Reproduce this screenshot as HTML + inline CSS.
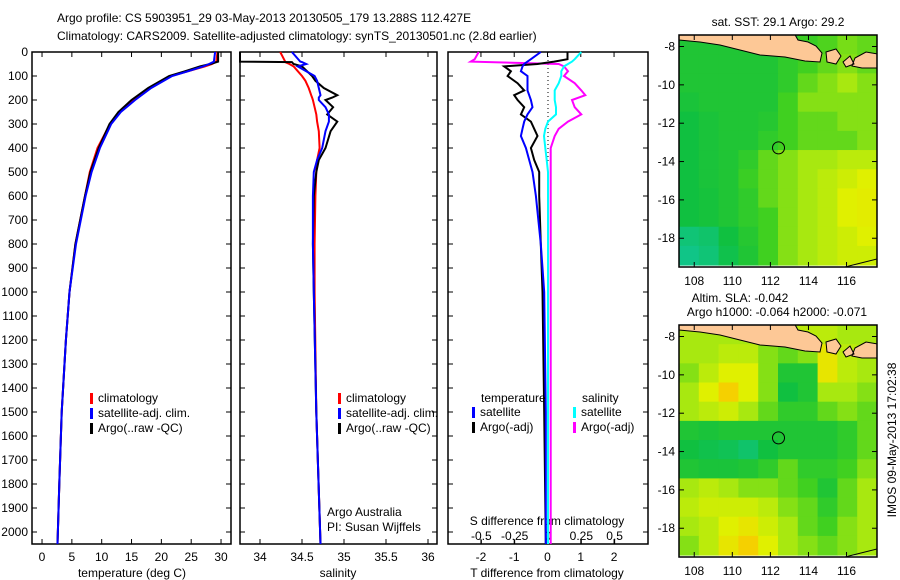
<!DOCTYPE html>
<html><head><meta charset="utf-8"><style>
body{margin:0;background:#fff}
svg{display:block;font-family:"Liberation Sans",sans-serif;font-size:12px}
</style></head><body>
<svg id="c" width="900" height="580" viewBox="0 0 900 580">
<text x="57" y="22">Argo profile: CS 5903951_29 03-May-2013 20130505_179 13.288S 112.427E</text>
<text x="57" y="40">Climatology: CARS2009. Satellite-adjusted climatology: synTS_20130501.nc (2.8d earlier)</text>
<g id="g"></g>
</svg>
<script>
// ---- data ----
const depthT=[0,40,50,60,80,100,150,200,250,300,400,500,600,700,800,1000,1200,1500,1800,2050];
const tempClim=[29.4,29.2,28.5,27.3,24.5,21.6,18.0,15.3,13.0,11.4,9.3,8.0,7.2,6.4,5.6,4.6,4.0,3.3,2.9,2.6];
const tempSat=[29.0,28.8,28.0,27.0,24.5,21.8,18.3,15.6,13.2,11.6,9.7,8.3,7.3,6.5,5.7,4.6,4.0,3.3,2.9,2.6];
const tempArgo=[29.5,29.5,28.2,26.5,24.0,21.3,17.8,15.0,12.8,11.3,9.5,8.1,7.2,6.4,5.6,4.6,4.0,3.3,2.9,2.6];
const depthS=[0,40,42,50,60,80,100,120,150,180,190,200,230,260,290,330,400,450,500,600,800,1000,1500,2050];
const salClim=[34.24,34.3,34.3,34.35,34.4,34.45,34.5,34.54,34.58,34.61,34.62,34.63,34.65,34.67,34.68,34.7,34.71,34.68,34.67,34.66,34.65,34.65,34.67,34.72];
const salSat=[34.38,34.48,34.5,34.55,34.45,34.55,34.65,34.68,34.7,34.72,34.7,34.7,34.78,34.82,34.82,34.78,34.74,34.68,34.64,34.63,34.63,34.64,34.67,34.72];
const salArgo=[33.6,33.6,34.38,34.4,34.5,34.56,34.62,34.66,34.76,34.92,34.86,34.78,34.87,34.8,34.92,34.84,34.78,34.7,34.67,34.64,34.63,34.64,34.67,34.72];
const depthD=[0,30,40,50,60,80,100,130,160,180,200,230,260,290,320,350,400,450,500,600,800,1000,1500,2050];
const dTArgo=[0.6,0.6,0.2,-0.3,-1.3,-1.1,-1.2,-0.9,-0.7,-1.0,-0.9,-0.7,-0.8,-0.5,-0.4,-0.3,-0.5,-0.4,-0.25,-0.25,-0.2,-0.15,-0.1,-0.05];
const dTSat=[-0.2,-0.5,-0.6,-0.7,-0.75,-0.8,-0.6,-0.6,-0.6,-0.55,-0.5,-0.45,-0.6,-0.7,-0.75,-0.8,-0.65,-0.55,-0.45,-0.35,-0.2,-0.1,-0.05,-0.05];
const dSArgo=[-0.52,-0.55,-0.58,0.08,0.12,0.15,0.12,0.2,0.25,0.28,0.18,0.2,0.25,0.15,0.08,0.05,0.02,0.02,0.02,0.02,0.02,0.02,0.02,0.02];
const dSSat=[0.25,0.2,0.18,0.15,0.12,0.1,0.1,0.08,0.05,0.05,0.05,0.06,0.06,0.0,-0.02,-0.03,-0.02,-0.01,0,0,0,0,0,0];
const yTicks=[0,100,200,300,400,500,600,700,800,900,1000,1100,1200,1300,1400,1500,1600,1700,1800,1900,2000];
const tTicks=[0,5,10,15,20,25,30];
const sTicks=[34,34.5,35,35.5,36];
const sTickLabels=["34","34.5","35","35.5","36"];
const dTTicks=[-2,-1,0,1,2];
const dSTicks=[-0.5,-0.25,0,0.25,0.5];
const lonTicks=[108,110,112,114,116];
const latTicks=[-8,-10,-12,-14,-16,-18];
const argoLon=112.427, argoLat=-13.288;
const mapLons=[107.2,108.24,109.28,110.32,111.36,112.4,113.44,114.48,115.52,116.56,117.6];
const mapLats=[-7.4,-8.4,-9.4,-10.4,-11.4,-12.4,-13.4,-14.4,-15.4,-16.4,-17.4,-18.4,-19.4];
const sstGrid=[
[.3,.3,.3,.3,.3,.32,.38,.42,.48,.45],
[.3,.3,.3,.3,.3,.35,.4,.45,.5,.45],
[.3,.3,.3,.3,.3,.35,.45,.5,.55,.5],
[.28,.3,.3,.3,.3,.4,.5,.5,.5,.5],
[.25,.28,.3,.3,.32,.4,.45,.45,.5,.5],
[.25,.28,.3,.3,.35,.4,.45,.45,.45,.5],
[.25,.28,.3,.35,.45,.5,.55,.55,.6,.6],
[.25,.28,.3,.38,.45,.5,.55,.6,.65,.7],
[.25,.27,.3,.35,.45,.5,.55,.6,.7,.72],
[.25,.27,.3,.35,.4,.5,.55,.6,.7,.72],
[.12,.15,.25,.32,.4,.5,.55,.6,.65,.7],
[.08,.12,.22,.3,.4,.5,.55,.6,.65,.65]];
const slaGrid=[
[.55,.55,.55,.55,.55,.55,.6,.6,.55,.55],
[.55,.55,.6,.6,.5,.45,.5,.75,.6,.55],
[.5,.6,.7,.7,.5,.3,.3,.75,.6,.55],
[.55,.7,.85,.7,.5,.25,.3,.55,.55,.5],
[.55,.6,.65,.55,.45,.35,.35,.45,.5,.45],
[.3,.28,.3,.3,.3,.3,.3,.3,.35,.45],
[.25,.22,.2,.15,.25,.3,.3,.3,.35,.45],
[.3,.28,.28,.3,.35,.45,.35,.35,.4,.5],
[.55,.6,.55,.5,.5,.45,.4,.3,.45,.55],
[.6,.65,.65,.65,.6,.5,.45,.35,.45,.55],
[.55,.6,.7,.75,.65,.55,.45,.4,.5,.55],
[.5,.6,.75,.85,.7,.55,.5,.45,.5,.55]];
// ---- drawing ----
const NS="http://www.w3.org/2000/svg";
const G=document.getElementById('g');
function el(t,a,p){const e=document.createElementNS(NS,t);for(const k in a)e.setAttribute(k,a[k]);(p||G).appendChild(e);return e;}
function txt(x,y,s,anchor){const e=el('text',{x:x,y:y,'text-anchor':anchor||'start'});e.textContent=s;return e;}
const Y=d=>52+d*0.24;
const PT=52,PB=544;
const panels=[{x0:32,x1:231,lo:-1.68,hi:31.67},{x0:240,x1:437,lo:33.762,hi:36.107},{x0:448,x1:648,lo:-2.99,hi:3.02}];
const sx=(p,v)=>p.x0+(v-p.lo)/(p.hi-p.lo)*(p.x1-p.x0);
const sxS=v=>548+v*133.3;
yTicks.forEach(d=>{const t=txt(28,Y(d)+4,String(d),'end');

});
panels.forEach((p,i)=>{
 const r=el('rect',{x:p.x0,y:PT,width:p.x1-p.x0,height:PB-PT,fill:'none',stroke:'#000','stroke-width':1.5});
 
 
 yTicks.forEach(d=>{el('line',{x1:p.x0,x2:p.x0+5,y1:Y(d),y2:Y(d),stroke:'#000'});el('line',{x1:p.x1-5,x2:p.x1,y1:Y(d),y2:Y(d),stroke:'#000'});});
});
function xticks(p,vals,labels,ly){vals.forEach((v,i)=>{const x=sx(p,v);
 el('line',{x1:x,x2:x,y1:PT,y2:PT+5,stroke:'#000'});el('line',{x1:x,x2:x,y1:PB-5,y2:PB,stroke:'#000'});
 const t=txt(x,ly,labels[i],'middle');
 
 });}
xticks(panels[0],tTicks,tTicks.map(String),561);
xticks(panels[1],sTicks,sTickLabels,561);
xticks(panels[2],dTTicks,dTTicks.map(String),561);
dSTicks.forEach(v=>{const x=sxS(v);el('line',{x1:x,x2:x,y1:PB-4,y2:PB,stroke:'#000'});
 const t=txt(x,540,String(v),'middle');
 
 });
let t;
t=txt(132,577,'temperature (deg C)','middle');
t=txt(338,577,'salinity','middle');
t=txt(547,577,'T difference from climatology','middle');
t=txt(547,525,'S difference from climatology','middle');
t=txt(327,516,'Argo Australia');
t=txt(327,531,'PI: Susan Wijffels');
el('line',{x1:548,x2:548,y1:PT,y2:163,stroke:'#000','stroke-dasharray':'1,3'});
function line(xs,ds,fx,col,name){const pts=xs.map((v,i)=>fx(v).toFixed(1)+','+Y(ds[i]).toFixed(1)).join(' ');
 const l=el('polyline',{points:pts,fill:'none',stroke:col,'stroke-width':2});
 
 }
line(tempClim,depthT,v=>sx(panels[0],v),'#f00','temp-climatology-line');
line(tempArgo,depthT,v=>sx(panels[0],v),'#000','temp-argo-line');
line(tempSat,depthT,v=>sx(panels[0],v),'#00f','temp-satellite-line');
line(salClim,depthS,v=>Math.max(240,sx(panels[1],v)),'#f00','sal-climatology-line');
line(salArgo,depthS,v=>Math.max(240,sx(panels[1],v)),'#000','sal-argo-line');
line(salSat,depthS,v=>sx(panels[1],v),'#00f','sal-satellite-line');
line(dSArgo,depthD,sxS,'#f0f','s-diff-argo-line');
line(dSSat,depthD,sxS,'#0ff','s-diff-satellite-line');
line(dTArgo,depthD,v=>sx(panels[2],v),'#000','t-diff-argo-line');
line(dTSat,depthD,v=>sx(panels[2],v),'#00f','t-diff-satellite-line');
function leg(x,y,col,label,name){el('rect',{x:x,y:y-9,width:3,height:11,fill:col});const t=txt(x+8,y,label);
 
 }
[['#f00','climatology'],['#00f','satellite-adj. clim.'],['#000','Argo(..raw -QC)']].forEach((e,i)=>{leg(90,402+i*15,e[0],e[1],'legend-entry');leg(338,402+i*15,e[0],e[1],'legend-entry');});
t=txt(481,402,'temperature');
t=txt(582,402,'salinity');
leg(472,416,'#00f','satellite','legend-entry');leg(472,431,'#000','Argo(-adj)','legend-entry');
leg(573,416,'#0ff','satellite','legend-entry');leg(573,431,'#f0f','Argo(-adj)','legend-entry');
// maps
const stops=[[0,[16,200,168]],[0.25,[16,192,64]],[0.4,[64,208,32]],[0.55,[168,232,16]],[0.7,[224,240,0]],[0.85,[245,208,0]],[1,[240,168,0]]];
function cmap(v){for(let i=1;i<stops.length;i++){if(v<=stops[i][0]){const a=stops[i-1],b=stops[i],f=(v-a[0])/(b[0]-a[0]);return 'rgb('+a[1].map((c,k)=>Math.round(c+(b[1][k]-c)*f)).join(',')+')';}}return 'rgb(240,168,0)';}
function drawMap(y0,grid,name){
 const mx=lon=>679+(lon-107.2)/10.4*198, my=lat=>y0+(-7.4-lat)/12.1*232;
 const cp=el('clipPath',{id:'cp'+name});el('rect',{x:679,y:y0,width:198,height:232},cp);
 const g=el('g',{'clip-path':'url(#cp'+name+')'});
 
 
 grid.forEach((row,r)=>row.forEach((v,c)=>{const x=mx(mapLons[c]),y=my(mapLats[r]);
  const cell=el('rect',{x:x,y:y,width:mx(mapLons[c+1])-x+0.5,height:my(mapLats[r+1])-y+0.5,fill:cmap(v)},g);
  
  }));
 const o=y0-35;
 const P=(x,y)=>x+','+(y+o);
 const d='M'+P(679,33)+' L'+P(679,40)+' L'+P(700,42)+' L'+P(720,45)+' L'+P(740,50)+' L'+P(760,55)+' L'+P(785,57)+' L'+P(805,61)+' L'+P(820,62)+' L'+P(822,53)+' L'+P(816,46)+' L'+P(808,42)+' L'+P(798,40)+' L'+P(794,33)+' Z'+
  ' M'+P(826,52)+' L'+P(836,49)+' L'+P(841,56)+' L'+P(836,64)+' L'+P(827,62)+' Z'+
  ' M'+P(855,58)+' L'+P(866,52)+' L'+P(878,54)+' L'+P(878,68)+' L'+P(862,68)+' L'+P(852,66)+' Z'+
  ' M'+P(843,62)+' L'+P(850,56)+' L'+P(854,64)+' L'+P(846,67)+' Z';
 const lp=el('path',{d:d,fill:'#fdc896',stroke:'#000','stroke-width':1},g);
 
 
 el('line',{x1:845,y1:y0+232,x2:877,y2:y0+224,stroke:'#000'},g);
 const fr=el('rect',{x:679,y:y0,width:198,height:232,fill:'none',stroke:'#000','stroke-width':1.5});
 
 
 const ci=el('circle',{cx:mx(argoLon),cy:my(argoLat),r:6,fill:'none',stroke:'#000','stroke-width':1});
 
 
 latTicks.forEach(l=>{const y=my(l);el('line',{x1:679,x2:684,y1:y,y2:y,stroke:'#000'});el('line',{x1:872,x2:877,y1:y,y2:y,stroke:'#000'});
  const t=txt(675,y+4,String(l),'end');});
 lonTicks.forEach(l=>{const x=mx(l);el('line',{x1:x,x2:x,y1:y0,y2:y0+5,stroke:'#000'});el('line',{x1:x,x2:x,y1:y0+227,y2:y0+232,stroke:'#000'});
  const t=txt(x,y0+250,String(l),'middle');});
}
drawMap(35,sstGrid,'sst-map');
drawMap(325,slaGrid,'sla-map');
t=txt(778,26,'sat. SST: 29.1  Argo: 29.2','middle');
t=txt(740,302,'Altim. SLA: -0.042','middle');
t=txt(777,316,'Argo h1000: -0.064 h2000: -0.071','middle');
t=txt(0,0,'IMOS 09-May-2013 17:02:38','middle');t.setAttribute('transform','translate(896,440) rotate(-90)');
</script>
</body></html>
